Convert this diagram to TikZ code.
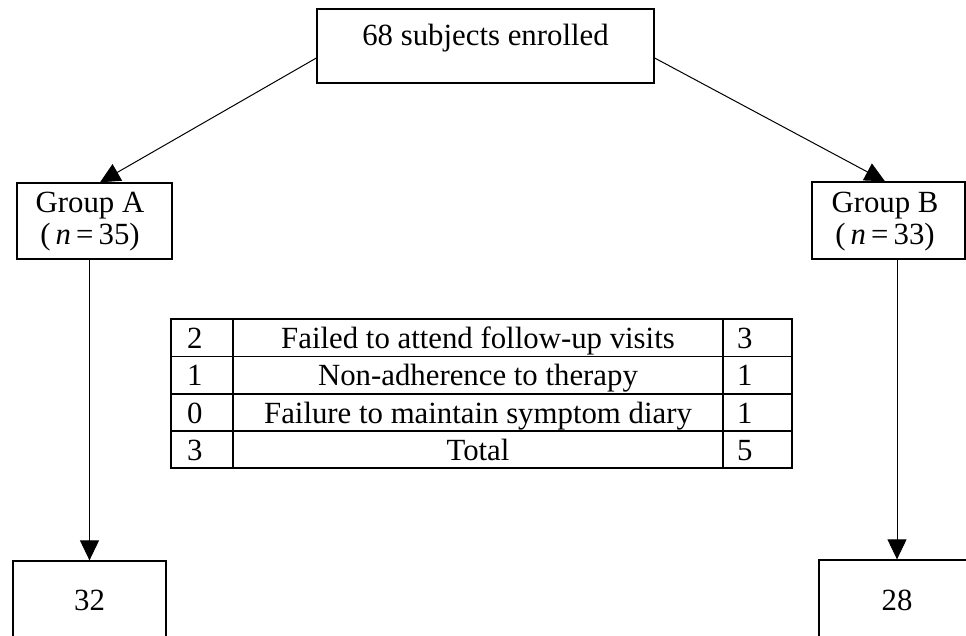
\documentclass[tikz,border=0pt]{standalone}
\usepackage{fontspec}
\setmainfont{Liberation Serif}
\usetikzlibrary{arrows.meta,calc}
\begin{document}
\begin{tikzpicture}[x=1pt,y=-1pt,
  box/.style={draw,line width=1.3pt,inner sep=0pt},
  lbl/.style={inner sep=0pt,font=\fontsize{30.8}{36}\selectfont},
  arr/.style={line width=1pt,-{Triangle[length=20pt,width=19pt]}},
  grid/.style={line width=1.3pt}]
\useasboundingbox (0,0) rectangle (966,636);
\clip (0,0) rectangle (966,636);
% top box
\node[box,lbl,minimum width=337pt,text height=37pt,text depth=37pt,anchor=base] (top) at (485.5,46) {68 subjects enrolled};
% group boxes
\node[box,minimum width=155pt,minimum height=76pt] (A) at (94.5,221) {};
\node[lbl,anchor=base] (Aa) at (90,213) {Group A};
\node[lbl,anchor=base] (Ab) at (90,245) {(\,\textit{n}\,=\,35)};
\node[box,minimum width=153pt,minimum height=77pt] (B) at (888.5,220.5) {};
\node[lbl,anchor=base] (Ba) at (885,213) {Group B};
\node[lbl,anchor=base] (Bb) at (885,245) {(\,\textit{n}\,=\,33)};
% bottom boxes
\node[box,minimum width=153pt,minimum height=100pt] (a32) at (89.5,611) {};
\node[lbl,anchor=base] (a32t) at (89.5,610) {32};
\node[box,minimum width=156pt,minimum height=100pt] (b28) at (897,610) {};
\node[lbl,anchor=base] (b28t) at (897,610) {28};
% connectors
\draw[arr] ($(top.west)+(0,12)$) -- ($(A.north)+(5.5,0)$);
\draw[arr] ($(top.east)+(0,12)$) -- ($(B.north)+(-3.5,0)$);
\draw[arr] (a32.north |- A.south) -- (a32.north);
\draw[arr] (b28.north |- B.south) -- (b28.north);
% table
\draw[grid] (171,319) rectangle (792,468);
\draw[grid] (171,356.5) -- (792,356.5) (171,394) -- (792,394) (171,431) -- (792,431);
\draw[grid] (233,319) -- (233,468) (723,319) -- (723,468);
\foreach \r/\a/\m/\b [count=\i] in {0/2/Failed to attend follow-up visits/3,1/1/Non-adherence to therapy/1,2/0/Failure to maintain symptom diary/1,3/3/Total/5}{
  \node[lbl,anchor=base west] (l\i) at (187,348.5+37.25*\r) {\a};
  \node[lbl,anchor=base] (m\i) at (478,348.5+37.25*\r) {\m};
  \node[lbl,anchor=base west] (r\i) at (737,348.5+37.25*\r) {\b};
}
\end{tikzpicture}
\end{document}
